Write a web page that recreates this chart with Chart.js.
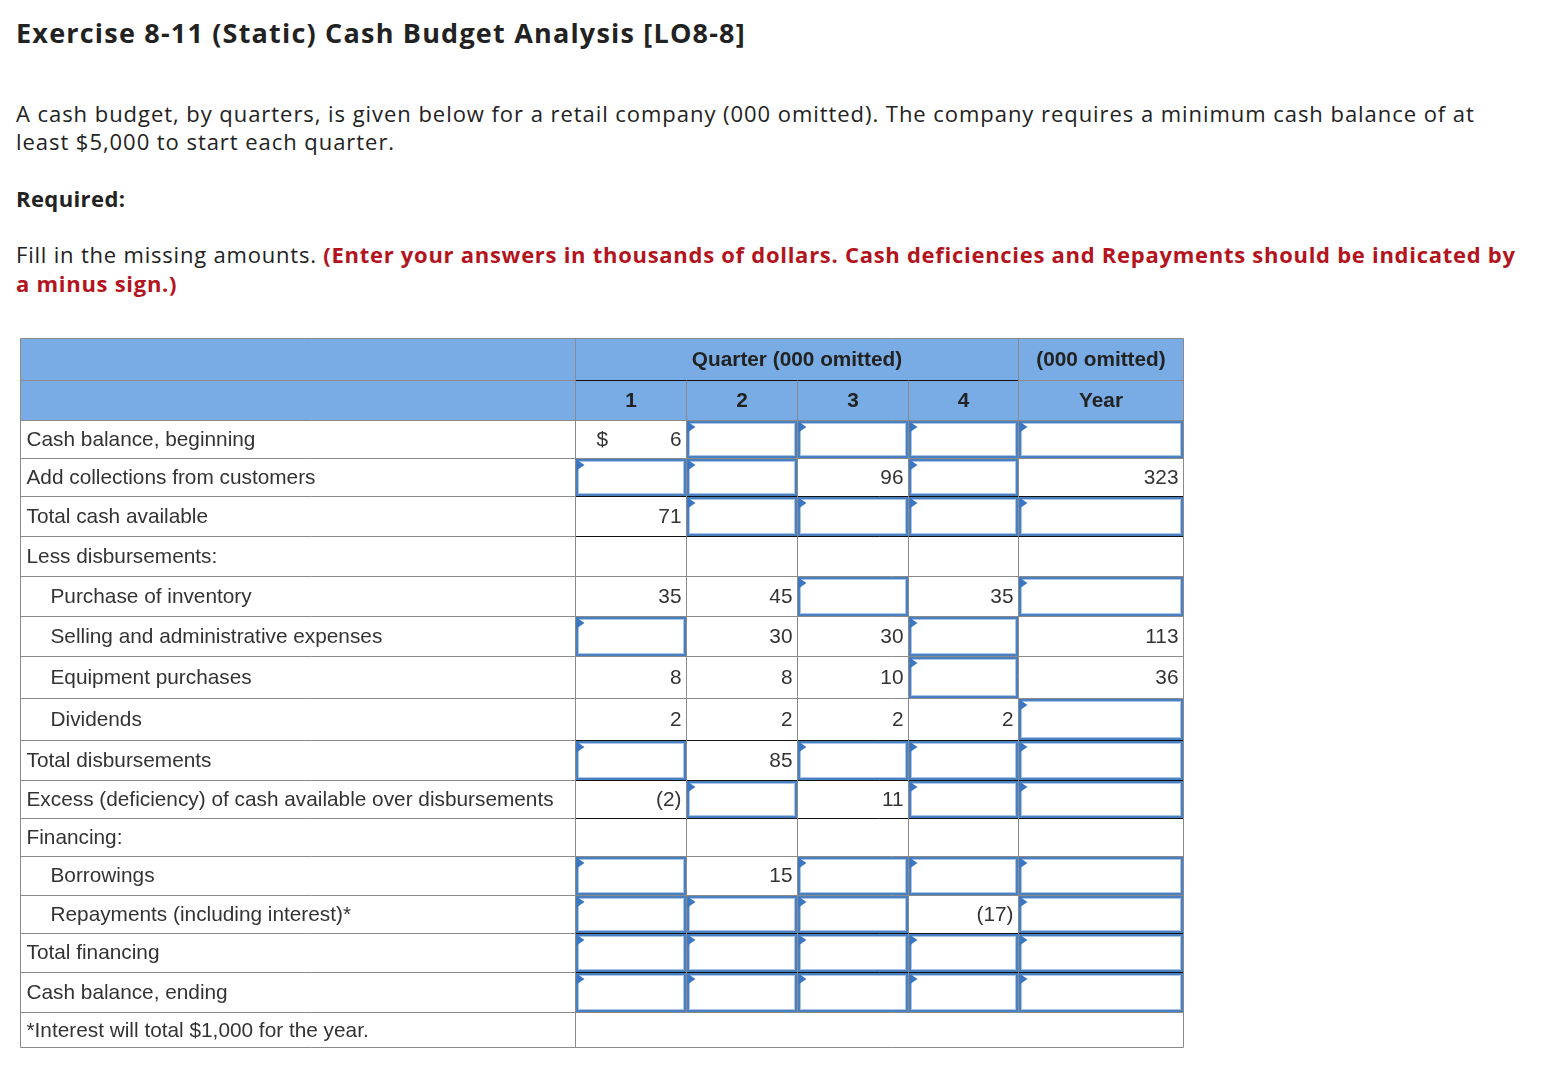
<!DOCTYPE html>
<html>
<head>
<meta charset="utf-8">
<title>Cash Budget Analysis</title>
<script src="https://cdn.jsdelivr.net/npm/chart.js@4.4.1/dist/chart.umd.min.js"></script>
<style>
    body { margin: 0; background: #fff; color: #222; font-family: "Open Sans", Lato, sans-serif; }
    .page { position: relative; width: 1552px; height: 1086px; overflow: hidden; }
    .t { position: absolute; left: 16px; white-space: nowrap; }
    #title { top: 14px; font-size: 27px; font-weight: 700; letter-spacing: 1.2px; }
    #intro { top: 99px; font-size: 22px; line-height: 28px; letter-spacing: 0.95px; }
    #req { top: 183px; font-size: 22px; font-weight: 700; letter-spacing: 0.4px; }
    #fill { top: 240px; font-size: 22px; line-height: 29px; letter-spacing: 0.8px; }
    .red { color: #b3141d; font-weight: 700; letter-spacing: 0.72px; }
    #tableBox { position: absolute; left: 20px; top: 338px; }
</style>
</head>
<body>
<div class="page">
    <div class="t" id="title">Exercise 8-11 (Static) Cash Budget Analysis [LO8-8]</div>
    <div class="t" id="intro">A cash budget, by quarters, is given below for a retail company (000 omitted). The company requires a minimum cash balance of at<br>least $5,000 to start each quarter.</div>
    <div class="t" id="req">Required:</div>
    <div class="t" id="fill">Fill in the missing amounts. <span class="red">(Enter your answers in thousands of dollars. Cash deficiencies and Repayments should be indicated by<br>a minus sign.)</span></div>
    <div id="tableBox"><canvas id="budgetChart" width="1164" height="711"></canvas></div>
</div>
<script>
// row labels of the cash budget
const rowLabels = [
    'Cash balance, beginning',
    'Add collections from customers',
    'Total cash available',
    'Less disbursements:',
    'Purchase of inventory',
    'Selling and administrative expenses',
    'Equipment purchases',
    'Dividends',
    'Total disbursements',
    'Excess (deficiency) of cash available over disbursements',
    'Financing:',
    'Borrowings',
    'Repayments (including interest)*',
    'Total financing',
    'Cash balance, ending'
];
const rowIndent = [0, 0, 0, 0, 1, 1, 1, 1, 0, 0, 0, 1, 1, 0, 0];
const groupHeads = ['Quarter (000 omitted)', '(000 omitted)'];
const columnHeads = ['1', '2', '3', '4', 'Year'];
const footnote = '*Interest will total $1,000 for the year.';

// null = answer box to fill in, '' = empty cell
const q1 = [6, null, 71, '', 35, null, 8, 2, null, -2, '', null, null, null, null];
const q2 = [null, null, null, '', 45, 30, 8, 2, 85, null, '', 15, null, null, null];
const q3 = [null, 96, null, '', null, 30, 10, 2, null, 11, '', null, null, null, null];
const q4 = [null, null, null, '', 35, null, null, 2, null, null, '', null, -17, null, null];
const year = [null, 323, null, '', null, 113, 36, null, null, null, '', null, null, null, null];

const columns = [q1, q2, q3, q4, year];

// layout: grid edges in scale units (2 header rows, 15 body rows, note row)
const colEdges = [0, 555, 666, 777, 888, 998, 1163];
const rowEdges = [0, 42, 82, 120, 158, 198, 238, 278, 318, 360, 402, 442, 480, 518, 557, 595, 634, 674, 710];
const blackTop = [2, 3, 8, 9, 10, 13, 14];   // body rows with a dark rule above the value cells
const headFill = '#79ace4';
const gridColor = '#8a8a8a';
const textColor = '#333';
const boxBlue = '#4a7fc0';
const boxInner = '#a9c6ea';
const flagBlue = '#3b76c3';
const bodyFont = '20.8px "Liberation Sans", Arial, sans-serif';
const headFont = 'bold 20.8px "Liberation Sans", Arial, sans-serif';

function fmt(v) {
    if (v === null || v === '') return '';
    return v < 0 ? '(' + (-v) + ')' : String(v);
}

const tablePlugin = {
    id: 'budgetTable',
    afterDraw(chart) {
        const ctx = chart.ctx;
        const x = chart.scales.x;
        const y = chart.scales.y;
        const px = i => Math.round(x.getPixelForValue(colEdges[i])) + 0.5;
        const rowTop = i => Math.round(y.getPixelForValue(rowEdges[i])) + 0.5;
        const rowMid = i => (y.getPixelForValue(rowEdges[i]) + y.getPixelForValue(rowEdges[i + 1])) / 2;
        const n = rowEdges.length - 1;
        const left = px(0), right = px(colEdges.length - 1);

        ctx.save();
        // header band
        ctx.fillStyle = headFill;
        ctx.fillRect(left, rowTop(0), right - left, rowTop(2) - rowTop(0));

        // horizontal rules
        ctx.lineWidth = 1;
        for (let r = 1; r < n; r++) {
            ctx.strokeStyle = gridColor;
            ctx.beginPath();
            ctx.moveTo(left, rowTop(r));
            ctx.lineTo(right, rowTop(r));
            ctx.stroke();
            const bodyRow = r - 2;
            if (r === 1 || blackTop.includes(bodyRow)) {
                ctx.strokeStyle = '#111';
                ctx.beginPath();
                ctx.moveTo(px(1), rowTop(r));
                ctx.lineTo(r === 1 ? px(5) : right, rowTop(r));
                ctx.stroke();
            }
        }
        // double rule under the ending balance
        ctx.strokeStyle = '#111';
        ctx.beginPath();
        ctx.moveTo(px(1), rowTop(n - 1) - 2);
        ctx.lineTo(right, rowTop(n - 1) - 2);
        ctx.stroke();

        // vertical rules
        ctx.strokeStyle = gridColor;
        for (let c = 0; c < colEdges.length; c++) {
            let top = rowTop(0);
            let bottom = rowTop(n) - 1;
            const inner = c > 1 && c < colEdges.length - 1;
            if (inner && c !== 5) top = rowTop(1);
            if (inner) bottom = rowTop(n - 1);
            ctx.beginPath();
            ctx.moveTo(px(c), top);
            ctx.lineTo(px(c), bottom);
            ctx.stroke();
        }
        ctx.beginPath();
        ctx.moveTo(left, rowTop(0));
        ctx.lineTo(right, rowTop(0));
        ctx.moveTo(left, rowTop(n) - 1);
        ctx.lineTo(right, rowTop(n) - 1);
        ctx.stroke();

        // header text
        ctx.fillStyle = '#222';
        ctx.font = headFont;
        ctx.textAlign = 'center';
        ctx.textBaseline = 'middle';
        ctx.fillText(groupHeads[0], (px(1) + px(5)) / 2, rowMid(0) + 1);
        ctx.fillText(groupHeads[1], (px(5) + px(6)) / 2, rowMid(0) + 1);
        columnHeads.forEach((lbl, c) => {
            ctx.fillText(lbl, (px(c + 1) + px(c + 2)) / 2, rowMid(1) + 1);
        });

        // row labels
        ctx.font = bodyFont;
        ctx.textAlign = 'left';
        ctx.fillStyle = textColor;
        rowLabels.forEach((lbl, r) => {
            ctx.fillText(lbl, left + 6 + rowIndent[r] * 24, rowMid(r + 2) + 1);
        });
        ctx.fillText(footnote, left + 6, rowMid(n - 1) + 1);

        // value cells
        columns.forEach((vals, c) => {
            const cl = px(c + 1), cr = px(c + 2);
            vals.forEach((v, r) => {
                const top = rowTop(r + 2), bot = rowTop(r + 3);
                if (v === null) {
                    ctx.fillStyle = '#fff';
                    ctx.fillRect(cl + 1, top + 1, cr - cl - 2, bot - top - 2);
                    ctx.lineWidth = 2;
                    ctx.strokeStyle = boxBlue;
                    ctx.strokeRect(cl + 1.5, top + 1.5, cr - cl - 3, bot - top - 3);
                    ctx.lineWidth = 1;
                    ctx.strokeStyle = boxInner;
                    ctx.strokeRect(cl + 3, top + 3, cr - cl - 6, bot - top - 6);
                    ctx.fillStyle = flagBlue;
                    ctx.beginPath();
                    ctx.moveTo(cl + 1, top + 1);
                    ctx.lineTo(cl + 9, top + 6.5);
                    ctx.lineTo(cl + 1, top + 12);
                    ctx.closePath();
                    ctx.fill();
                    return;
                }
                ctx.fillStyle = textColor;
                ctx.textAlign = 'right';
                ctx.fillText(fmt(v), cr - 5, rowMid(r + 2) + 1);
                if (c === 0 && r === 0) {
                    ctx.textAlign = 'left';
                    ctx.fillText('$', cl + 21, rowMid(r + 2) + 1);
                }
            });
        });
        ctx.restore();
    }
};

document.addEventListener('DOMContentLoaded', function() {
    const ctx = document.getElementById('budgetChart').getContext('2d');
    new Chart(ctx, {
        type: 'scatter',
        data: { datasets: [] },
        options: {
            responsive: false,
            animation: false,
            events: [],
            layout: { padding: 0 },
            plugins: {
                legend: { display: false },
                tooltip: { enabled: false }
            },
            scales: {
                x: { type: 'linear', min: 0, max: 1164, display: false },
                y: { type: 'linear', min: 0, max: 711, reverse: true, display: false }
            }
        },
        plugins: [tablePlugin]
    });
});
</script>
</body>
</html>
